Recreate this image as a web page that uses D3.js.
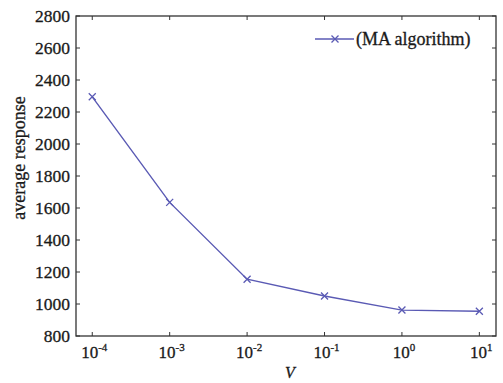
<!DOCTYPE html>
<html><head><meta charset="utf-8">
<script src="https://cdn.jsdelivr.net/npm/d3@7"></script>
<style>body{margin:0;background:#fff}svg{display:block}text{font-family:"Liberation Serif","Times New Roman",serif;stroke:#1a1a1a;stroke-width:0.3px}</style>
</head><body><svg id="c" width="503" height="383"></svg>
<script>
const exponents = [-4, -3, -2, -1, 0, 1];
const values = [2295, 1635, 1155, 1050, 962, 955];
const yTicks = [800, 1000, 1200, 1400, 1600, 1800, 2000, 2200, 2400, 2600, 2800];
const seriesName = "(MA algorithm)";

const svg = d3.select("#c");
const L = 76, R = 496, T = 16, B = 336;
const x = d3.scaleLog().domain([Math.pow(10, -4.21), Math.pow(10, 1.215)]).range([L, R]);
const y = d3.scaleLinear().domain([800, 2800]).range([B, T]);
const ink = "#333";
const txt = "#1a1a1a";
const col = "#5a5ab4";

svg.append("rect").attr("x", L).attr("y", T).attr("width", R - L).attr("height", B - T)
  .attr("fill", "none").attr("stroke", ink).attr("stroke-width", 1.3);

const tl = 4;
const xt = exponents.map(e => Math.pow(10, e));
xt.forEach(v => {
  svg.append("line").attr("x1", x(v)).attr("x2", x(v)).attr("y1", B).attr("y2", B - tl).attr("stroke", ink);
  svg.append("line").attr("x1", x(v)).attr("x2", x(v)).attr("y1", T).attr("y2", T + tl).attr("stroke", ink);
});
yTicks.forEach(v => {
  svg.append("line").attr("x1", L).attr("x2", L + tl).attr("y1", y(v)).attr("y2", y(v)).attr("stroke", ink);
  svg.append("line").attr("x1", R).attr("x2", R - tl).attr("y1", y(v)).attr("y2", y(v)).attr("stroke", ink);
  svg.append("text").attr("x", L - 6).attr("y", y(v)).attr("dy", "0.36em").attr("text-anchor", "end")
    .attr("font-size", 17.5).attr("fill", txt).text(v);
});
exponents.forEach(e => {
  const t = svg.append("text").attr("x", x(Math.pow(10, e)) + 2).attr("y", 358).attr("text-anchor", "middle")
    .attr("font-size", 17).attr("fill", txt);
  t.append("tspan").text("10");
  t.append("tspan").attr("dy", -7).attr("font-size", 11).text(e);
});

svg.append("text").attr("x", 290).attr("y", 378).attr("text-anchor", "middle")
  .attr("font-size", 16).attr("font-style", "italic").attr("fill", txt).text("V");
svg.append("text").attr("transform", `translate(25,158) rotate(-90)`).attr("text-anchor", "middle")
  .attr("font-size", 18).attr("fill", txt).text("average response");

const line = d3.line().x((d, i) => x(Math.pow(10, exponents[i]))).y(d => y(d));
svg.append("path").attr("d", line(values)).attr("fill", "none").attr("stroke", col).attr("stroke-width", 1.4);
const m = 3.5;
function cross(cx, cy) {
  svg.append("path").attr("d", `M${cx - m},${cy - m}L${cx + m},${cy + m}M${cx - m},${cy + m}L${cx + m},${cy - m}`)
    .attr("stroke", col).attr("stroke-width", 1.3);
}
values.forEach((v, i) => cross(x(Math.pow(10, exponents[i])), y(v)));

const ly = 39;
svg.append("line").attr("x1", 315).attr("x2", 354).attr("y1", ly).attr("y2", ly).attr("stroke", col).attr("stroke-width", 1.4);
cross(335, ly);
svg.append("text").attr("x", 356).attr("y", 45).attr("font-size", 18).attr("fill", txt).text(seriesName);
</script></body></html>
